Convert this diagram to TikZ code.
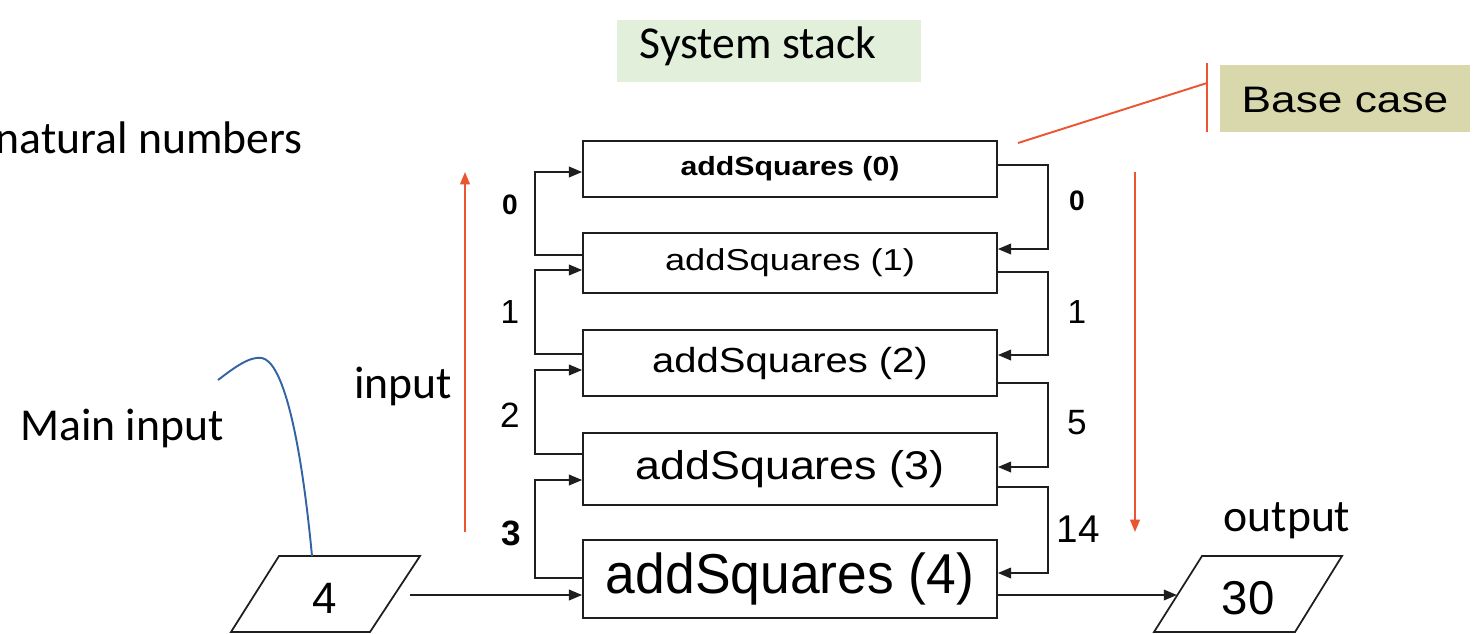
\documentclass[tikz,border=0pt]{standalone}
\usepackage{fontspec}
\setmainfont{Liberation Sans}
\newfontfamily\calfont{Carlito}
\usetikzlibrary{arrows.meta}
\definecolor{stackgreen}{RGB}{226,239,218}
\definecolor{basekhaki}{RGB}{216,216,172}
\definecolor{redline}{RGB}{235,85,50}
\definecolor{blueline}{RGB}{50,100,165}
\definecolor{ink}{RGB}{30,30,30}
\newcommand{\sx}[2]{\scalebox{#1}[1]{#2}}
\newcommand{\fs}[1]{\fontsize{#1}{#1}\selectfont}
\begin{document}
\begin{tikzpicture}[x=0.02cm,y=-0.02cm,
  frame/.style={draw=ink,line width=1pt,minimum width=8.28cm,inner sep=0pt,text=black},
  conn/.style={draw=ink,line width=1pt,-{Triangle[length=7.5pt,width=6pt]}},
  redarrow/.style={draw=redline,line width=1.1pt,-{Triangle[length=7pt,width=5.5pt]}},
  calib/.style={font=\calfont\fs{26pt},inner sep=0pt},
  numlbl/.style={inner sep=0pt,text=black},
  para/.style={draw=ink,line width=1pt}
]
\useasboundingbox (0,0) rectangle (1480,633);

% title
\node[fill=stackgreen,minimum width=6.08cm,minimum height=1.24cm,inner sep=0pt] (title) at (769,51) {};
\node[calib] (titletext) at (758,46) {System stack};

\node[calib,anchor=east] (nat) at (303,138) {natural numbers};
\node[calib] (mainin) at (122,428) {Main input};
\node[calib] (inputlbl) at (403,386) {input};
\node[calib] (outputlbl) at (1287,521) {output};

% stack boxes
\node[frame,minimum height=1.12cm] (b0) at (790,169) {\sx{1.15}{\fs{15pt}\bfseries addSquares (0)}};
\node[frame,minimum height=1.2cm] (b1) at (790,263) {\sx{1.2}{\fs{17.2pt}addSquares (1)}};
\node[frame,minimum height=1.32cm] (b2) at (790,363) {\sx{1.15}{\fs{19.8pt}addSquares (2)}};
\node[frame,minimum height=1.44cm] (b3) at (790,469) {\sx{1.12}{\fs{22.8pt}addSquares (3)}};
\node[frame,minimum height=1.56cm] (b4) at (790,579) {\sx{0.95}{\fs{32pt}addSquares (4)}};

% right return connectors
\draw[conn] (b0.east |- 0,165) -| (1048,249) -- (b1.east |- 0,249);
\draw[conn] (b1.east |- 0,272) -| (1048,355) -- (b2.east |- 0,355);
\draw[conn] (b2.east |- 0,383) -| (1048,467) -- (b3.east |- 0,467);
\draw[conn] (b3.east |- 0,487) -| (1048,573) -- (b4.east |- 0,573);

% left call connectors
\draw[conn] (b1.west |- 0,255) -| (535,172) -- (b0.west |- 0,172);
\draw[conn] (b2.west |- 0,354) -| (535,270) -- (b1.west |- 0,270);
\draw[conn] (b3.west |- 0,454) -| (535,370) -- (b2.west |- 0,370);
\draw[conn] (b4.west |- 0,578) -| (535,480) -- (b3.west |- 0,480);

% numbers
\node[numlbl,font=\fs{16pt}\bfseries] (l0) at (510,205) {0};
\node[numlbl,font=\fs{19pt}] (l1) at (510,312) {1};
\node[numlbl,font=\fs{20pt}] (l2) at (510,415) {2};
\node[numlbl,font=\fs{20pt}\bfseries] (l3) at (511,533) {3};
\node[numlbl,font=\fs{16pt}\bfseries] (r0) at (1077,201) {0};
\node[numlbl,font=\fs{19pt}] (r1) at (1077,312) {1};
\node[numlbl,font=\fs{20pt}] (r5) at (1077,423) {5};
\node[numlbl,font=\fs{22pt}] (r14) at (1078,529) {14};

% red direction arrows
\draw[redarrow] (465,532) -- (465,172);
\draw[redarrow] (1135,172) -- (1135,532);

% base case
\node[fill=basekhaki,minimum width=5cm,minimum height=1.34cm,inner sep=0pt] (base) at (1345,98.5) {};
\node[numlbl] (basetext) at (1345,100) {\sx{1.2}{\fs{21pt}Base case}};
\coordinate (bcstart) at (1018,143);
\coordinate (bcjoin) at (1207,83);
\draw[redline,line width=1.1pt] (bcstart) -- (bcjoin);
\draw[redline,line width=1.1pt] (1207,63) -- (1207,132);

% input parallelogram
\draw[para] (231,632) -- (279,556) -- (420,556) -- (370,632) -- cycle;
\node[numlbl,font=\fs{25pt}] (p4) at (325,598) {4};
\coordinate (p4out) at (410,595);
\draw[conn] (p4out) -- (b4.west |- p4out);

% output parallelogram
\draw[para] (1154,632) -- (1202,556) -- (1342,556) -- (1295,632) -- cycle;
\node[numlbl,font=\fs{27pt}] (p30) at (1248,598) {30};
\coordinate (p30in) at (1177,595);
\draw[conn] (b4.east |- p30in) -- (p30in);

% blue pointer curve
\coordinate (bluestart) at (218,380);
\coordinate (blueend) at (312,556);
\draw[blueline,line width=1.1pt] (bluestart) .. controls (235,367) and (250,356) .. (262,358) .. controls (282,362) and (300,430) .. (blueend);
\end{tikzpicture}
\end{document}
